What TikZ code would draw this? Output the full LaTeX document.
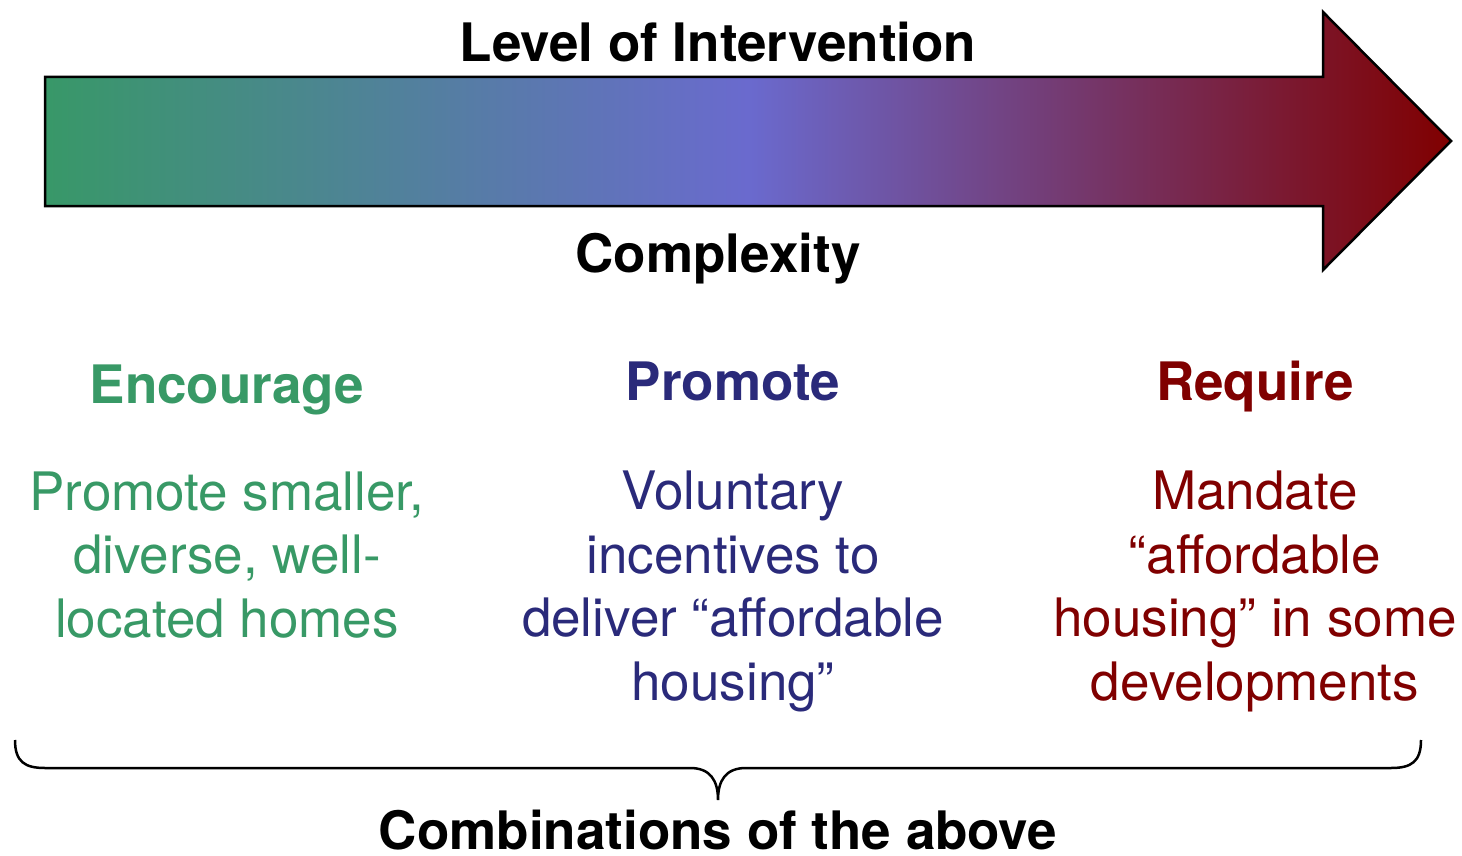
\documentclass[tikz,border=0pt]{standalone}
\usepackage{fontspec}
\setmainfont{TeX Gyre Heros}
\definecolor{encgreen}{RGB}{56,153,102}
\definecolor{pronavy}{RGB}{42,42,122}
\definecolor{reqred}{RGB}{128,0,0}
% green -> violet blue -> dark red, across the arrow's width
\pgfdeclarehorizontalshading{arrowshade}{100bp}{%
  rgb(0bp)=(0.2196,0.596,0.408);
  rgb(25bp)=(0.2196,0.596,0.408);
  rgb(50bp)=(0.4157,0.4157,0.808);
  rgb(75bp)=(0.502,0,0);
  rgb(100bp)=(0.502,0,0)}
\tikzset{
  bigtext/.style={inner sep=0pt, font=\fontsize{53}{63.5}\selectfont},
  headline/.style={bigtext, font=\fontsize{53}{63.5}\selectfont\bfseries, anchor=base},
  bodytext/.style={bigtext, align=center, anchor=base},
}
\begin{document}
\begin{tikzpicture}[x=1pt,y=-1pt]
  \useasboundingbox (0,0) rectangle (1462,856);
  % shaded block arrow
  \shade[shading=arrowshade, draw=black, line width=2.5pt, line join=miter]
    (45,77) -- (1323,77) -- (1323,12) -- (1451,141) -- (1323,270)
    -- (1323,206) -- (45,206) -- cycle;
  \node[headline] (level) at (718,62) {Level of Intervention};
  \node[headline] (complex) at (718,272) {Complexity};
  % three columns (body nodes sit on their last baseline)
  \node[headline, text=encgreen] (enc) at (227,403) {Encourage};
  \node[headline, text=pronavy] (pro) at (733,400) {Promote};
  \node[headline, text=reqred] (req) at (1255,400) {Require};
  \node[bodytext, text=encgreen] (encbody) at (227,637)
    {Promote smaller,\\diverse, well-\\located homes};
  \node[bodytext, text=pronavy] (probody) at (733,700)
    {Voluntary\\incentives to\\deliver “affordable\\housing”};
  \node[bodytext, text=reqred] (reqbody) at (1255,700)
    {Mandate\\“affordable\\housing” in some\\developments};
  % brace
  \coordinate (bl) at (15,740);
  \coordinate (br) at (1421,740);
  \coordinate (btip) at (718,800);
  \draw[line width=2.5pt]
    (bl) .. controls (15,762) and (25,768) .. (45,768) -- (690,768)
    .. controls (710,768) and (718,780) .. (btip)
    .. controls (718,780) and (726,768) .. (746,768) -- (1391,768)
    .. controls (1411,768) and (1421,762) .. (br);
  \node[headline] (combo) at (718,849) {Combinations of the above};
\end{tikzpicture}
\end{document}
